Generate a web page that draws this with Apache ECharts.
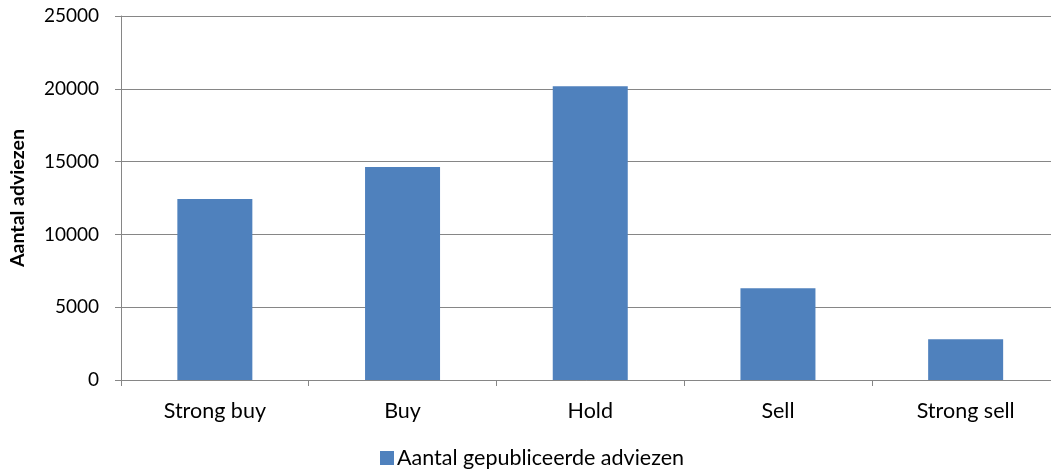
<!DOCTYPE html>
<html>
<head>
<meta charset="utf-8">
<script src="https://cdn.jsdelivr.net/npm/echarts@6/dist/echarts.min.js"></script>
<style>
  html, body { margin: 0; padding: 0; background: #fff; overflow: hidden; }
  #chart { width: 1051px; height: 472px; }
</style>
</head>
<body>
<div id="chart"></div>
<script>
// Aantal gepubliceerde adviezen per advies-type
const categories = ['Strong buy', 'Buy', 'Hold', 'Sell', 'Strong sell'];
const adviezen = [12430, 14630, 20170, 6310, 2800];
const seriesName = 'Aantal gepubliceerde adviezen';
const yAxisTitle = 'Aantal adviezen';

const FONT = 'Lato, "Liberation Sans", sans-serif';
const AXIS_GREY = '#868686';

const chart = echarts.init(document.getElementById('chart'), null, { renderer: 'canvas' });
chart.setOption({
  animation: false,
  textStyle: { fontFamily: FONT },
  grid: {
    left: 121, top: 16, width: 938.5, height: 364,
    containLabel: false, outerBoundsMode: 'none'
  },
  legend: {
    data: [seriesName],
    left: 375,
    top: 442,
    icon: 'rect',
    itemWidth: 14,
    itemHeight: 14,
    itemGap: 5,
    textStyle: { fontFamily: FONT, fontSize: 21.5, color: '#000', padding: [0, 0, 0, -2] }
  },
  xAxis: {
    type: 'category',
    data: categories,
    boundaryGap: true,
    axisLine: { lineStyle: { color: AXIS_GREY, width: 1 } },
    axisTick: { show: true, length: 6, lineStyle: { color: AXIS_GREY } },
    axisLabel: { fontFamily: FONT, fontSize: 21.5, color: '#000', margin: 20 },
    splitLine: { show: false }
  },
  yAxis: {
    type: 'value',
    min: 0,
    max: 25000,
    interval: 5000,
    name: yAxisTitle,
    nameLocation: 'middle',
    nameRotate: 90,
    nameGap: 93,
    nameTextStyle: { fontFamily: FONT, fontSize: 19.5, fontWeight: 'bold', color: '#000' },
    axisLine: { show: true, lineStyle: { color: AXIS_GREY, width: 1 } },
    axisTick: { show: true, length: 6, lineStyle: { color: AXIS_GREY } },
    axisLabel: {
      fontFamily: FONT, fontSize: 19, color: '#000', margin: 22,
      formatter: (v) => String(v)
    },
    splitLine: { show: true, lineStyle: { color: AXIS_GREY, width: 1 } }
  },
  series: [{
    name: seriesName,
    type: 'bar',
    data: adviezen,
    barWidth: 75,
    itemStyle: { color: '#4F81BD' }
  }]
});
</script>
</body>
</html>
